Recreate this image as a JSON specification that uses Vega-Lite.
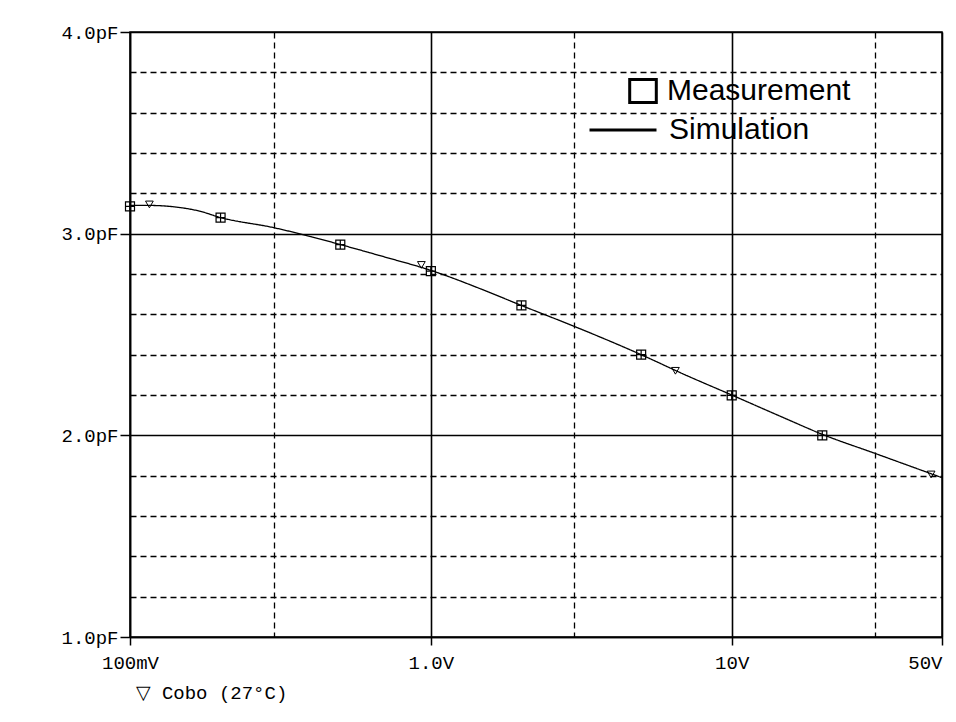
{
  "$schema": "https://vega.github.io/schema/vega-lite/v6.json",
  "width": 812,
  "height": 605,
  "autosize": {"type": "none"},
  "padding": {"left": 130, "top": 32, "right": 14, "bottom": 85},
  "background": "white",
  "datasets": {
    "simulation": [
      {"v": 0.1, "c": 3.14},
      {"v": 0.116, "c": 3.14},
      {"v": 0.136, "c": 3.135},
      {"v": 0.17, "c": 3.112},
      {"v": 0.2, "c": 3.08},
      {"v": 0.3, "c": 3.03},
      {"v": 0.4, "c": 2.985},
      {"v": 0.5, "c": 2.946},
      {"v": 0.7, "c": 2.885},
      {"v": 1.0, "c": 2.818},
      {"v": 1.5, "c": 2.72},
      {"v": 2.0, "c": 2.644},
      {"v": 3.0, "c": 2.54},
      {"v": 5.0, "c": 2.40},
      {"v": 7.0, "c": 2.30},
      {"v": 10.0, "c": 2.20},
      {"v": 15.0, "c": 2.085},
      {"v": 20.0, "c": 2.005},
      {"v": 30.0, "c": 1.91},
      {"v": 50.0, "c": 1.79}
    ],
    "markers": [
      {"v": 0.116, "c": 3.145},
      {"v": 0.93, "c": 2.845},
      {"v": 6.5, "c": 2.32},
      {"v": 46.0, "c": 1.806}
    ],
    "measurement": [
      {"v": 0.1, "c": 3.135},
      {"v": 0.2, "c": 3.08},
      {"v": 0.5, "c": 2.946},
      {"v": 1.0, "c": 2.814},
      {"v": 2.0, "c": 2.644},
      {"v": 5.0, "c": 2.40},
      {"v": 10.0, "c": 2.198},
      {"v": 20.0, "c": 2.0}
    ]
  },
  "config": {
    "view": {"stroke": "black", "strokeWidth": 1.5},
    "axis": {
      "domainColor": "black",
      "domainWidth": 1.5,
      "tickColor": "black",
      "tickWidth": 1.5,
      "labelColor": "black",
      "labelFont": "Liberation Mono",
      "labelFontSize": 19,
      "titleColor": "black",
      "titleFont": "Liberation Mono",
      "titleFontSize": 19,
      "titleFontWeight": "normal",
      "gridColor": "black",
      "gridOpacity": 1
    }
  },
  "encoding": {
    "x": {
      "field": "v",
      "type": "quantitative",
      "scale": {"type": "log", "domain": [0.1, 50], "nice": false},
      "axis": {
        "values": [0.1, 0.3, 1, 3, 10, 30, 50],
        "labelExpr": "datum.value == 0.1 ? '100mV' : datum.value == 1 ? '1.0V' : datum.value == 10 ? '10V' : datum.value == 50 ? '50V' : ''",
        "labelAlign": {"condition": {"test": "datum.value == 50", "value": "right"}, "value": "center"},
        "tickSize": 8,
        "tickOpacity": {"condition": {"test": "datum.value == 0.3 || datum.value == 3 || datum.value == 30", "value": 0}, "value": 1},
        "labelPadding": 8,
        "labelFlush": false,
        "labelOverlap": false,
        "grid": true,
        "gridDash": {"condition": {"test": "datum.value == 0.3 || datum.value == 3 || datum.value == 30", "value": [6, 4]}, "value": []},
        "gridWidth": {"condition": {"test": "datum.value == 0.3 || datum.value == 3 || datum.value == 30", "value": 1.3}, "value": 1.6},
        "title": "▽ Cobo (27°C)",
        "titleAnchor": "start",
        "titleAlign": "left",
        "titleBaseline": "middle",
        "titleX": 5,
        "titleY": 55
      }
    },
    "y": {
      "field": "c",
      "type": "quantitative",
      "scale": {"domain": [1, 4], "nice": false, "zero": false},
      "axis": {
        "values": [1, 1.2, 1.4, 1.6, 1.8, 2, 2.2, 2.4, 2.6, 2.8, 3, 3.2, 3.4, 3.6, 3.8, 4],
        "labelExpr": "abs(datum.value - round(datum.value)) < 0.001 ? format(datum.value, '.1f') + 'pF' : ''",
        "tickSize": 10,
        "tickOpacity": {"condition": {"test": "abs(datum.value - round(datum.value)) < 0.001", "value": 1}, "value": 0},
        "labelPadding": 2,
        "labelOverlap": false,
        "labelFlush": false,
        "grid": true,
        "gridDash": {"condition": {"test": "abs(datum.value - round(datum.value)) < 0.001", "value": []}, "value": [6, 4]},
        "gridWidth": {"condition": {"test": "abs(datum.value - round(datum.value)) < 0.001", "value": 1.6}, "value": 1.3},
        "title": null
      }
    }
  },
  "layer": [
    {
      "data": {"name": "simulation"},
      "mark": {"type": "line", "stroke": "black", "strokeWidth": 1.3, "interpolate": "monotone"},
      "encoding": {
        "strokeDash": {
          "datum": "Simulation",
          "scale": {"range": [[1, 0]]},
          "legend": {
            "orient": "none",
            "legendX": 458,
            "legendY": 63,
            "title": null,
            "symbolType": "stroke",
            "symbolSize": 4489,
            "symbolStrokeWidth": 3,
            "symbolStrokeColor": "black",
            "labelFont": "Liberation Sans",
            "labelFontSize": 30,
            "labelColor": "black",
            "labelLimit": 0,
            "labelOffset": 11
          }
        }
      }
    },
    {
      "data": {"name": "markers"},
      "mark": {"type": "point", "shape": "triangle-down", "filled": false, "stroke": "black", "strokeWidth": 1, "size": 60, "opacity": 1}
    },
    {
      "data": {"name": "measurement"},
      "mark": {"type": "point", "shape": "M-1,-1H1V1H-1ZM0,-1V1M-1,0H1", "filled": false, "stroke": "black", "strokeWidth": 1.2, "size": 81},
      "encoding": {
        "opacity": {
          "datum": "Measurement",
          "scale": {"range": [1, 1]},
          "legend": {
            "orient": "none",
            "legendX": 498,
            "legendY": 44,
            "title": null,
            "symbolType": "M-1,-0.87H1V0.87H-1Z",
            "symbolSize": 708,
            "symbolStrokeWidth": 3,
            "symbolStrokeColor": "black",
            "symbolFillColor": "transparent",
            "symbolOpacity": 1,
            "labelFont": "Liberation Sans",
            "labelFontSize": 30,
            "labelColor": "black",
            "labelLimit": 0,
            "labelOffset": 9
          }
        }
      }
    }
  ]
}
